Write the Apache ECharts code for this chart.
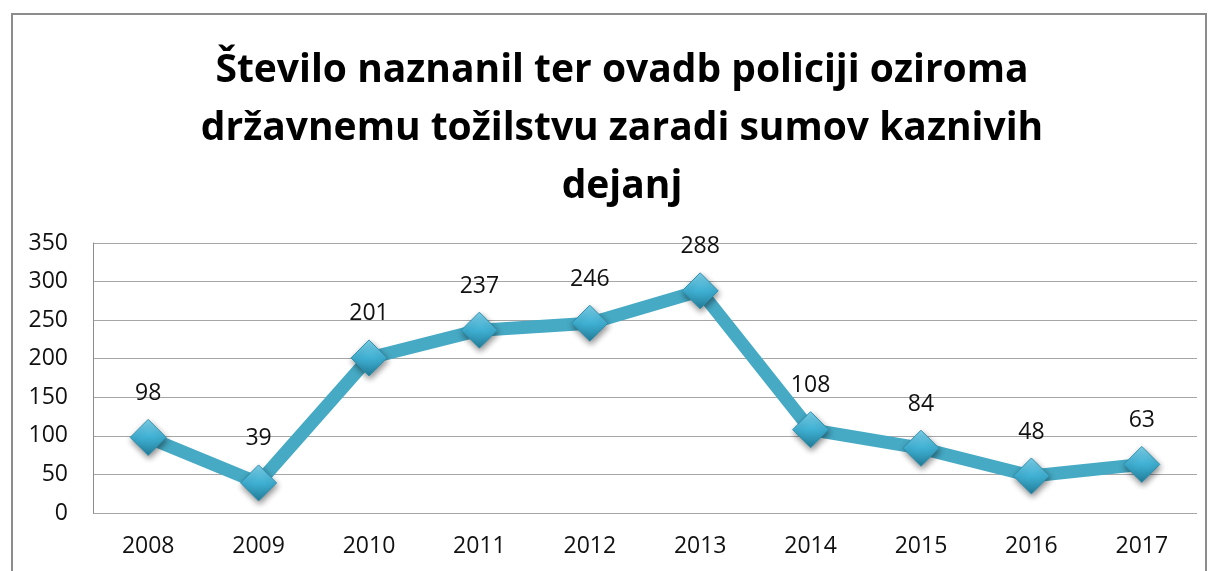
<!DOCTYPE html>
<html>
<head>
<meta charset="utf-8">
<script src="https://cdn.jsdelivr.net/npm/echarts@6/dist/echarts.min.js"></script>
<style>
html,body{margin:0;padding:0;background:#fff;overflow:hidden;}
#box{position:absolute;left:11px;top:13px;width:1192px;height:600px;border:2px solid #8c8c8c;}
#chart{position:absolute;left:0;top:0;width:1208px;height:571px;}
</style>
</head>
<body>
<div id="box"></div>
<div id="chart"></div>
<script>
var years = ['2008','2009','2010','2011','2012','2013','2014','2015','2016','2017'];
var counts = [98,39,201,237,246,288,108,84,48,63];
var titleText = 'Število naznanil ter ovadb policiji oziroma\ndržavnemu tožilstvu zaradi sumov kaznivih\ndejanj';

var myChart = echarts.init(document.getElementById('chart'));
var option = {
	animation:false,
	title:{
		text:titleText,
		left:617,
		top:37,
		textAlign:'center',
		textStyle:{fontFamily:'Open Sans',fontSize:39,fontWeight:'bold',color:'#000',lineHeight:58}
	},
	grid:{left:93,right:11,top:243,bottom:58},
	xAxis:{
		type:'category',
		data:years,
		boundaryGap:true,
		axisLine:{show:false},
		axisTick:{show:false},
		axisLabel:{fontFamily:'Open Sans',fontSize:23,color:'#111',margin:22}
	},
	yAxis:{
		type:'value',
		min:0,max:350,interval:50,
		axisLine:{show:true,lineStyle:{color:'#8c8c8c',width:1}},
		axisTick:{show:false},
		splitLine:{lineStyle:{color:'#a6a6a6',width:1}},
		axisLabel:{fontFamily:'Open Sans',fontSize:23,color:'#111',margin:25}
	},
	series:[{
		type:'line',
		data:counts,
		lineStyle:{color:'#46aac5',width:13},
		symbol:'diamond',
		symbolSize:[36,36],
		itemStyle:{
			color:new echarts.graphic.LinearGradient(0,0,0,1,[
				{offset:0,color:'#7fd3ec'},
				{offset:0.5,color:'#3fb0d3'},
				{offset:1,color:'#237d99'}
			]),
			borderColor:'#2f8fad',borderWidth:1,
			shadowColor:'rgba(0,0,0,0.45)',shadowBlur:6,shadowOffsetX:1,shadowOffsetY:3
		},
		label:{show:true,position:'top',distance:14,fontFamily:'Open Sans',fontSize:23,color:'#111'}
	}]
};
myChart.setOption(option);
</script>
</body>
</html>
